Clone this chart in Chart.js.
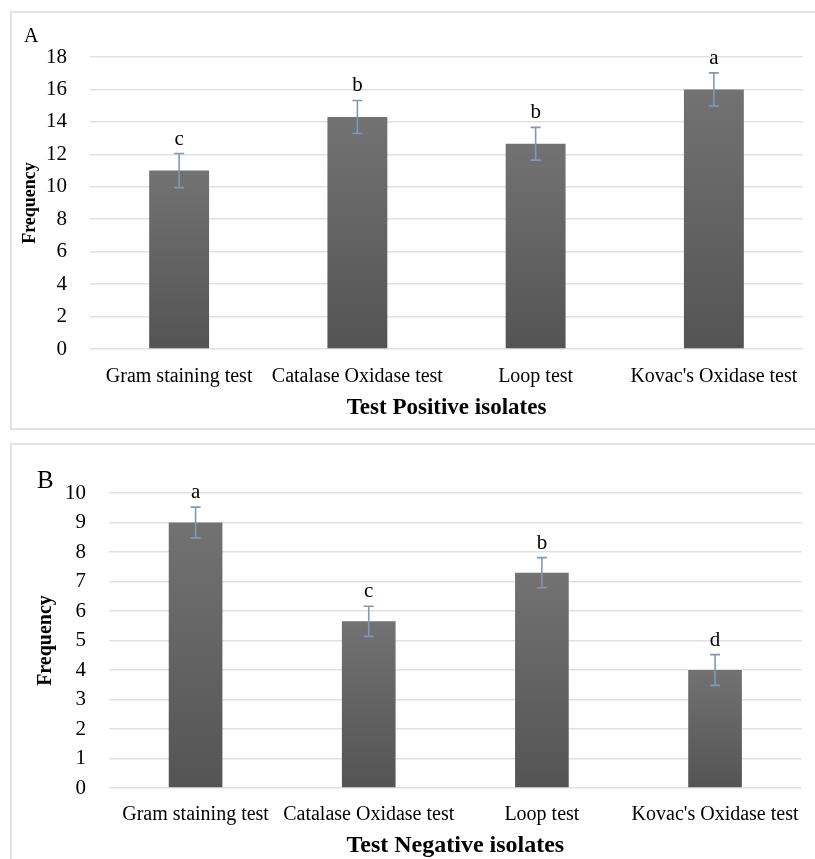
<!DOCTYPE html>
<html>
<head>
<meta charset="utf-8">
<title>Test isolates</title>
<script src="https://cdn.jsdelivr.net/npm/chart.js@4.4.1/dist/chart.umd.min.js"></script>
<style>
    html, body { margin: 0; padding: 0; background: #fff; }
    body { width: 815px; height: 859px; position: relative; overflow: hidden; }
    .panel {
        position: absolute;
        left: 10px;
        width: 820px;
        border: 2px solid #dfe2e8;
        box-sizing: border-box;
        background: #fff;
    }
    #panelA { top: 11px; height: 419px; }
    #panelB { top: 443px; height: 430px; }
    .panel canvas { position: absolute; left: -2px; top: -2px; }
</style>
</head>
<body>
<div class="panel" id="panelA"><canvas id="chartA" width="805" height="419"></canvas></div>
<div class="panel" id="panelB"><canvas id="chartB" width="805" height="418"></canvas></div>

<script>
// ============================================
// Frequency of test results by isolate group
// ============================================

const categories = ['Gram staining test', 'Catalase Oxidase test', 'Loop test', "Kovac's Oxidase test"];

// A - test positive isolates
const positiveValues = [11, 14.3, 12.65, 16];
const positiveErrors = [1.05, 1.02, 1.01, 1.02];
const positiveLetters = ['c', 'b', 'b', 'a'];
const positiveMax = 18;
const positiveStep = 2;

// B - test negative isolates
const negativeValues = [9, 5.65, 7.3, 4];
const negativeErrors = [0.52, 0.51, 0.51, 0.52];
const negativeLetters = ['a', 'c', 'b', 'd'];
const negativeMax = 10;
const negativeStep = 1;

const SERIF = "'Liberation Serif', 'Times New Roman', serif";
const GRID_COLOR = '#dde1e8';
const ERROR_COLOR = '#8298b8';

// Vertical gray gradient, one per bar
function barGradient(ctx) {
    const chart = ctx.chart;
    const area = chart.chartArea;
    if (!area || ctx.parsed === undefined) return '#666666';
    const top = chart.scales.y.getPixelForValue(ctx.parsed.y);
    const g = chart.ctx.createLinearGradient(0, top, 0, area.bottom);
    g.addColorStop(0, '#727272');
    g.addColorStop(1, '#545454');
    return g;
}

// Error bars, significance letters and panel letter
const annotationsPlugin = {
    id: 'annotations',
    afterDatasetsDraw(chart, args, opts) {
        const ctx = chart.ctx;
        const yScale = chart.scales.y;
        const meta = chart.getDatasetMeta(0);
        const values = chart.data.datasets[0].data;

        ctx.save();
        meta.data.forEach((bar, i) => {
            const hi = yScale.getPixelForValue(values[i] + opts.errors[i]);
            const lo = yScale.getPixelForValue(values[i] - opts.errors[i]);
            ctx.strokeStyle = ERROR_COLOR;
            ctx.lineWidth = 1.6;
            ctx.beginPath();
            ctx.moveTo(bar.x, hi);
            ctx.lineTo(bar.x, lo);
            ctx.moveTo(bar.x - 5, hi);
            ctx.lineTo(bar.x + 5, hi);
            ctx.moveTo(bar.x - 5, lo);
            ctx.lineTo(bar.x + 5, lo);
            ctx.stroke();

            ctx.fillStyle = '#000';
            ctx.font = opts.letterSize + 'px ' + SERIF;
            ctx.textAlign = 'center';
            ctx.textBaseline = 'alphabetic';
            ctx.fillText(opts.letters[i], bar.x, hi - 9);
        });

        ctx.font = opts.panelSize + 'px ' + SERIF;
        ctx.textAlign = 'left';
        ctx.textBaseline = 'alphabetic';
        ctx.fillStyle = '#000';
        ctx.fillText(opts.panel, opts.panelX, opts.panelY);
        ctx.restore();
    }
};

function createChart(canvasId, cfg) {
    return new Chart(document.getElementById(canvasId), {
        type: 'bar',
        data: {
            labels: categories,
            datasets: [{
                data: cfg.values,
                backgroundColor: barGradient,
                borderWidth: 0,
                barPercentage: 1,
                categoryPercentage: cfg.barShare
            }]
        },
        options: {
            responsive: false,
            animation: false,
            layout: { padding: { top: cfg.top, right: cfg.right, left: 0, bottom: 0 } },
            plugins: {
                legend: { display: false },
                tooltip: { enabled: false },
                annotations: {
                    errors: cfg.errors,
                    letters: cfg.letters,
                    letterSize: 21,
                    panel: cfg.panel,
                    panelSize: cfg.panelSize,
                    panelX: cfg.panelX,
                    panelY: cfg.panelY
                }
            },
            scales: {
                x: {
                    grid: { display: false, drawTicks: false },
                    border: { display: false },
                    ticks: {
                        color: '#000',
                        padding: cfg.xTickPad,
                        maxRotation: 0,
                        autoSkip: false,
                        font: { family: SERIF, size: 20 }
                    },
                    title: {
                        display: true,
                        text: cfg.xTitle,
                        color: '#000',
                        padding: { top: 0, bottom: cfg.xTitlePad },
                        font: { family: SERIF, size: cfg.xTitleSize, weight: 'bold' }
                    },
                    afterFit(scale) { scale.height = cfg.xHeight; }
                },
                y: {
                    min: 0,
                    max: cfg.max,
                    grid: { color: GRID_COLOR, lineWidth: 1.6, drawTicks: false },
                    border: { display: false },
                    ticks: {
                        stepSize: cfg.step,
                        color: '#000',
                        padding: 23,
                        font: { family: SERIF, size: 21 }
                    },
                    title: {
                        display: true,
                        text: 'Frequency',
                        color: '#000',
                        padding: { top: cfg.yTitlePad, bottom: 0 },
                        font: { family: SERIF, size: cfg.yTitleSize, weight: 'bold' }
                    },
                    afterFit(scale) { scale.width = cfg.yWidth; }
                }
            }
        },
        plugins: [annotationsPlugin]
    });
}

createChart('chartA', {
    values: positiveValues,
    errors: positiveErrors,
    letters: positiveLetters,
    max: positiveMax,
    step: positiveStep,
    barShare: 0.336,
    top: 46,
    right: 12,
    yWidth: 80,
    xHeight: 81,
    xTickPad: 16,
    xTitlePad: 8,
    xTitleSize: 23,
    xTitle: 'Test Positive isolates',
    yTitlePad: 10,
    yTitleSize: 18,
    panel: 'A',
    panelSize: 20,
    panelX: 14,
    panelY: 31
});

createChart('chartB', {
    values: negativeValues,
    errors: negativeErrors,
    letters: negativeLetters,
    max: negativeMax,
    step: negativeStep,
    barShare: 0.31,
    top: 50,
    right: 12,
    yWidth: 99,
    xHeight: 73,
    xTickPad: 15,
    xTitlePad: 1,
    xTitleSize: 24,
    xTitle: 'Test Negative isolates',
    yTitlePad: 24,
    yTitleSize: 20,
    panel: 'B',
    panelSize: 25,
    panelX: 27,
    panelY: 45
});
</script>
</body>
</html>
